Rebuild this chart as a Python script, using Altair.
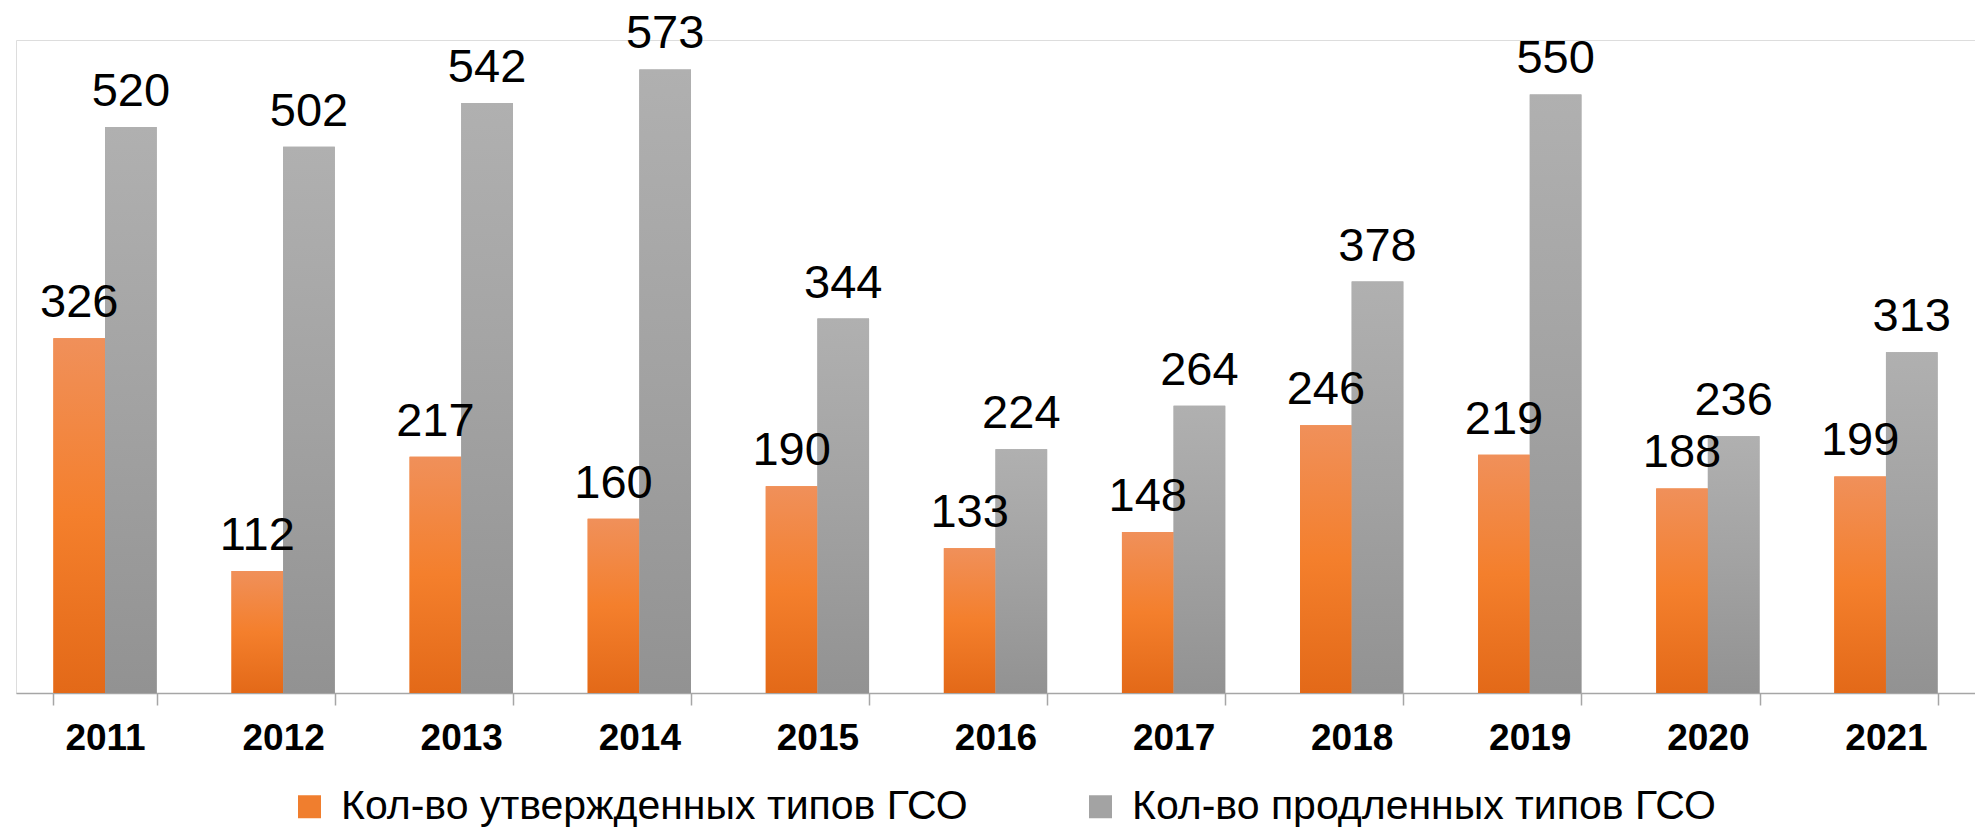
import altair as alt
import pandas as pd

years = ["2011", "2012", "2013", "2014", "2015", "2016", "2017", "2018", "2019", "2020", "2021"]
approved = [326, 112, 217, 160, 190, 133, 148, 246, 219, 188, 199]
extended = [520, 502, 542, 573, 344, 224, 264, 378, 550, 236, 313]
series_names = ["Кол-во утвержденных типов ГСО", "Кол-во продленных типов ГСО"]

rows = []
for y, a, e in zip(years, approved, extended):
    rows.append({"year": y, "series": series_names[0], "value": a})
    rows.append({"year": y, "series": series_names[1], "value": e})
df = pd.DataFrame(rows)

FONT = "Liberation Sans"

x_enc = alt.X("year:N", sort=years,
              scale=alt.Scale(paddingInner=0.42, paddingOuter=0.21),
              axis=alt.Axis(title=None, labelAngle=0, labelFont=FONT, labelFontSize=37,
                            labelFontWeight="bold", labelColor="black", domainColor="#a6a6a6",
                            domainWidth=1.5, tickColor="#a6a6a6", tickWidth=1.5, tickSize=12,
                            tickBand="extent", labelPadding=15, grid=False))
xo_enc = alt.XOffset("series:N", scale=alt.Scale(domain=series_names, paddingInner=0, paddingOuter=0))
y_enc = alt.Y("value:Q", scale=alt.Scale(domain=[0, 600]), axis=None)

base = alt.Chart(df)

legend_bars = base.mark_bar().encode(
    x=x_enc, xOffset=xo_enc, y=y_enc,
    color=alt.Color("series:N",
                    scale=alt.Scale(domain=series_names, range=["#f07e2e", "#a3a3a3"]),
                    legend=alt.Legend(title=None, orient="none", legendX=273, legendY=746,
                                      direction="horizontal", symbolType="square",
                                      symbolSize=529, symbolStrokeWidth=0,
                                      labelFont=FONT, labelFontSize=41, labelColor="black",
                                      labelOffset=11, labelLimit=0, columnPadding=112,
                                      padding=0))
)

orange_grad = alt.Gradient(gradient="linear", x1=0, x2=0, y1=0, y2=1, stops=[
    alt.GradientStop(color="#f0905a", offset=0),
    alt.GradientStop(color="#f47f2c", offset=0.5),
    alt.GradientStop(color="#e36918", offset=1),
])
gray_grad = alt.Gradient(gradient="linear", x1=0, x2=0, y1=0, y2=1, stops=[
    alt.GradientStop(color="#b0b0b0", offset=0),
    alt.GradientStop(color="#a2a2a2", offset=0.5),
    alt.GradientStop(color="#929292", offset=1),
])

orange_bars = base.transform_filter(alt.datum.series == series_names[0]).mark_bar(
    color=orange_grad).encode(x=x_enc, xOffset=xo_enc, y=y_enc)
gray_bars = base.transform_filter(alt.datum.series == series_names[1]).mark_bar(
    color=gray_grad).encode(x=x_enc, xOffset=xo_enc, y=y_enc)

labels = base.mark_text(baseline="alphabetic", dy=-21, font=FONT, fontSize=47,
                        color="black").encode(
    x=x_enc, xOffset=xo_enc, y=y_enc, text="value:Q")

chart = alt.layer(legend_bars, orange_bars, gray_bars, labels).properties(
    width=1959, height=653,
    autosize=alt.AutoSizeParams(type="none"),
    padding={"left": 16, "top": 40, "right": 0, "bottom": 138},
).configure_view(stroke=None).configure(background="white")

chart.save("out.html", embed_options={"renderer": "svg", "actions": False})
